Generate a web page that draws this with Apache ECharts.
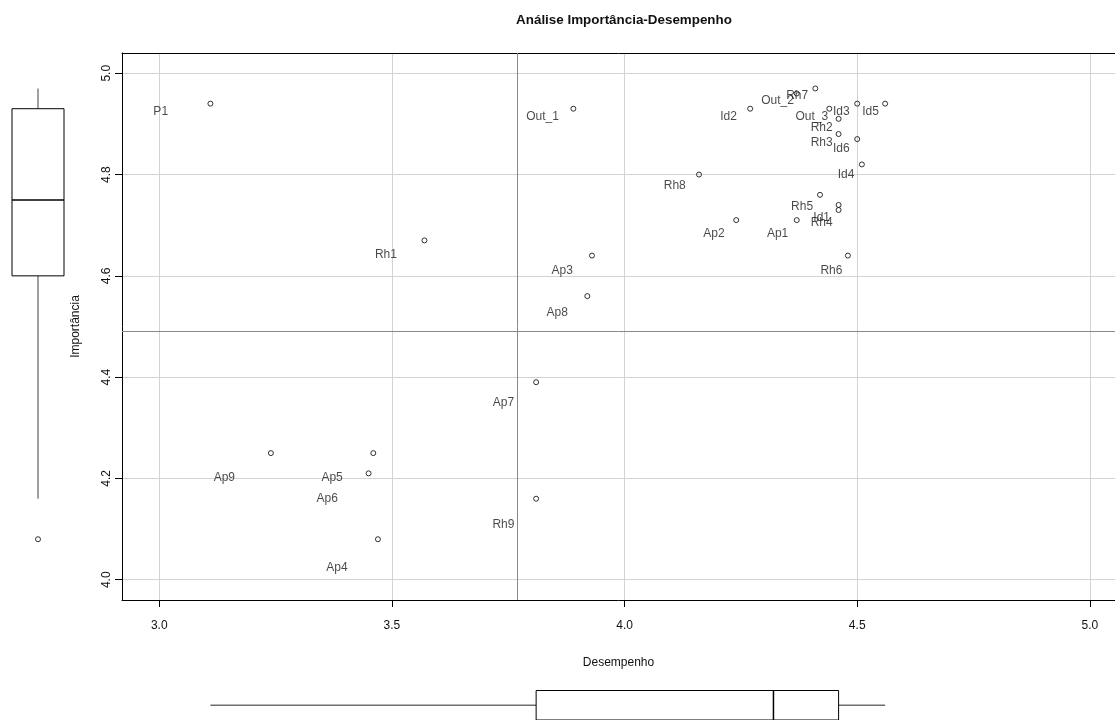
<!DOCTYPE html>
<html>
<head>
<meta charset="utf-8">
<script src="https://cdn.jsdelivr.net/npm/echarts@6/dist/echarts.min.js"></script>
<style>
html,body{margin:0;padding:0;background:#fff;}
#chart{width:1115px;height:720px;}
</style>
</head>
<body>
<div id="chart"></div>
<script>
// ---- data ----
const items = ['P1','Out_1','Out_2','Out_3','Id1','Id2','Id3','Id4','Id5','Id6',
  'Rh1','Rh2','Rh3','Rh4','Rh5','Rh6','Rh7','Rh8','Rh9',
  'Ap1','Ap2','Ap3','Ap4','Ap5','Ap6','Ap7','Ap8','Ap9'];
const desempenho = [3.11,3.89,4.37,4.44,4.46,4.27,4.50,4.51,4.56,4.50,
  3.57,4.46,4.46,4.46,4.42,4.48,4.41,4.16,3.81,
  4.37,4.24,3.93,3.47,3.46,3.45,3.81,3.92,3.24];
const importancia = [4.94,4.93,4.96,4.93,4.74,4.93,4.94,4.82,4.94,4.87,
  4.67,4.91,4.88,4.73,4.76,4.64,4.97,4.80,4.16,
  4.71,4.71,4.64,4.08,4.25,4.21,4.39,4.56,4.25];
const xTicks = [3.0,3.5,4.0,4.5,5.0];
const yTicks = [4.0,4.2,4.4,4.6,4.8,5.0];
const refDesempenho = 3.765;
const refImportancia = 4.49;
const titleText = 'Análise Importância-Desempenho';
const xName = 'Desempenho';
const yName = 'Importância';

// ---- boxplot statistics (R boxplot.stats, Tukey hinges) ----
function boxStats(arr){
  const x = arr.slice().sort((a,b)=>a-b);
  const n = x.length;
  const n4 = Math.floor((n+3)/2)/2;
  const d = [1, n4, (n+1)/2, n+1-n4, n];
  const f = d.map(v => 0.5*(x[Math.floor(v)-1] + x[Math.ceil(v)-1]));
  const iqr = f[3]-f[1];
  const lowF = f[1]-1.5*iqr, hiF = f[3]+1.5*iqr;
  const inside = x.filter(v => v>=lowF-1e-9 && v<=hiF+1e-9);
  const out = x.filter(v => v<lowF-1e-9 || v>hiF+1e-9);
  return {stats:[inside[0], f[1], f[2], f[3], inside[inside.length-1]], out};
}
const bx = boxStats(desempenho);
const by = boxStats(importancia);

const FONT = 'Liberation Sans, Arial, sans-serif';
const chart = echarts.init(document.getElementById('chart'), null, {renderer:'canvas'});

function boxRender(orient){
  return function(params, api){
    const lo = api.value(0), q1 = api.value(1), md = api.value(2), q3 = api.value(3), hi = api.value(4);
    const P = orient === 'v' ? (a,v)=>api.coord([a,v]) : (a,v)=>api.coord([v,a]);
    const b1 = P(0,q1), b2 = P(1,q3);
    const m1 = P(0,md), m2 = P(1,md);
    const w1 = P(0.5,lo), w2 = P(0.5,q1), w3 = P(0.5,q3), w4 = P(0.5,hi);
    return {type:'group', children:[
      {type:'line', shape:{x1:w1[0],y1:w1[1],x2:w2[0],y2:w2[1]}, style:{stroke:'#6e6e6e',lineWidth:1.3}},
      {type:'line', shape:{x1:w3[0],y1:w3[1],x2:w4[0],y2:w4[1]}, style:{stroke:'#6e6e6e',lineWidth:1.3}},
      {type:'rect', shape:{x:Math.min(b1[0],b2[0]), y:Math.min(b1[1],b2[1]),
        width:Math.abs(b2[0]-b1[0]), height:Math.abs(b2[1]-b1[1])},
        style:{fill:'#fff', stroke:'#000', lineWidth:1}},
      {type:'line', shape:{x1:m1[0],y1:m1[1],x2:m2[0],y2:m2[1]}, style:{stroke:'#000',lineWidth:1.5}}
    ]};
  };
}

const points = items.map((n,i)=>({name:n, value:[desempenho[i], importancia[i]]}));

const hiddenAxis = {show:false, axisLine:{show:false}, axisTick:{show:false}, axisLabel:{show:false}, splitLine:{show:false}};
const X_MIN = 2.92, X_MAX = 5.054;

chart.setOption({
  animation:false,
  textStyle:{fontFamily:FONT},
  graphic:[{type:'text', x:624, y:20, style:{text:titleText, textAlign:'center', textVerticalAlign:'middle',
    font:'bold 13.4px '+FONT, fill:'#111'}}],
  grid:[
    {left:122, right:0, top:53, bottom:120, show:false},
    {left:57.9, width:1052.6, top:26.5, height:636.3, show:false},
    {left:12, width:52, top:53, bottom:120, show:false},
    {left:122, right:0, top:690.5, height:32, show:false}
  ],
  xAxis:[
    {type:'value', gridIndex:0, min:X_MIN, max:X_MAX, name:xName, nameLocation:'middle', nameGap:57,
      nameTextStyle:{fontSize:12, color:'#111', fontFamily:FONT},
      axisLine:{show:true, lineStyle:{color:'#000'}},
      axisTick:{show:true, inside:false, length:7, customValues:xTicks, lineStyle:{color:'#000'}},
      axisLabel:{customValues:xTicks, margin:20, fontSize:12, color:'#111', formatter:v=>Number(v).toFixed(1)},
      splitLine:{show:true, lineStyle:{color:'#d3d3d3', width:1}}},
    Object.assign({type:'value', gridIndex:1, min:2.9, max:5.05}, hiddenAxis),
    Object.assign({type:'value', gridIndex:2, min:0, max:1}, hiddenAxis),
    Object.assign({type:'value', gridIndex:3, min:X_MIN, max:X_MAX}, hiddenAxis),
    {type:'value', gridIndex:0, position:'top', min:X_MIN, max:X_MAX,
      axisLine:{show:true, onZero:false, lineStyle:{color:'#000'}}, axisTick:{show:false}, axisLabel:{show:false}, splitLine:{show:false}}
  ],
  yAxis:[
    {type:'value', gridIndex:0, min:3.96, max:5.04, name:yName, nameLocation:'middle', nameGap:40,
      nameTextStyle:{fontSize:12, color:'#111', fontFamily:FONT},
      axisLine:{show:true, onZero:false, lineStyle:{color:'#000'}},
      axisTick:{show:true, inside:false, length:7, customValues:yTicks, lineStyle:{color:'#000'}},
      axisLabel:{customValues:yTicks, rotate:90, margin:9, fontSize:12, color:'#111', formatter:v=>Number(v).toFixed(1)},
      splitLine:{show:true, lineStyle:{color:'#d3d3d3', width:1}}},
    Object.assign({type:'value', gridIndex:1, min:3.9, max:5.1}, hiddenAxis),
    Object.assign({type:'value', gridIndex:2, min:3.96, max:5.04}, hiddenAxis),
    Object.assign({type:'value', gridIndex:3, min:0, max:1}, hiddenAxis)
  ],
  series:[
    {type:'scatter', xAxisIndex:0, yAxisIndex:0, data:points, symbol:'circle', symbolSize:5,
      itemStyle:{color:'rgba(255,255,255,0)', borderColor:'#000', borderWidth:1}, z:5,
      markLine:{silent:true, symbol:'none', label:{show:false},
        lineStyle:{color:'#888', type:'solid', width:1},
        data:[{xAxis:refDesempenho},{yAxis:refImportancia}]}},
    {type:'scatter', xAxisIndex:1, yAxisIndex:1, data:points, symbolSize:1,
      itemStyle:{color:'rgba(0,0,0,0)'}, silent:true, z:6,
      label:{show:true, position:'inside', formatter:'{b}', fontSize:12, color:'#1a1a1a', fontFamily:FONT}},
    {type:'custom', xAxisIndex:2, yAxisIndex:2, clip:false, renderItem:boxRender('v'), data:[by.stats]},
    {type:'scatter', xAxisIndex:2, yAxisIndex:2, data:by.out.map(v=>[0.5,v]), symbolSize:5,
      itemStyle:{color:'rgba(255,255,255,0)', borderColor:'#000', borderWidth:1}},
    {type:'custom', xAxisIndex:3, yAxisIndex:3, clip:false, renderItem:boxRender('h'), data:[bx.stats]},
    {type:'scatter', xAxisIndex:3, yAxisIndex:3, data:bx.out.map(v=>[v,0.5]), symbolSize:5,
      itemStyle:{color:'rgba(255,255,255,0)', borderColor:'#000', borderWidth:1}}
  ]
});
</script>
</body>
</html>
